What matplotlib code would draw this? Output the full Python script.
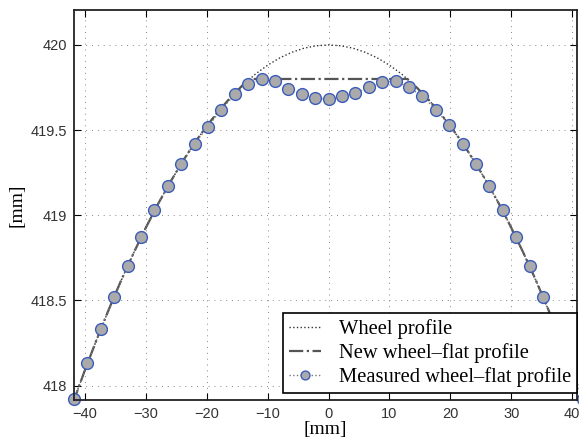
import matplotlib
matplotlib.use('Agg')
from matplotlib import pyplot as plt
from matplotlib.ticker import FuncFormatter

# Wheel profile (round wheel)
wheel_x = [-42, -40, -38, -36, -34, -32, -30, -28, -26, -24, -22, -20, -18, -16,
           -14, -12, -10, -8, -6, -4, -2, 0, 2, 4, 6, 8, 10, 12, 14, 16, 18,
           20, 22, 24, 26, 28, 30, 32, 34, 36, 38, 40, 42]
wheel_y = [417.895, 418.091, 418.277, 418.454, 418.622, 418.779, 418.927,
           419.066, 419.194, 419.314, 419.424, 419.524, 419.614, 419.695,
           419.767, 419.829, 419.881, 419.924, 419.957, 419.981, 419.995, 420.0,
           419.995, 419.981, 419.957, 419.924, 419.881, 419.829, 419.767,
           419.695, 419.614, 419.524, 419.424, 419.314, 419.194, 419.066,
           418.927, 418.779, 418.622, 418.454, 418.277, 418.091, 417.895]

# New wheel-flat profile (flat chord at 419.8)
flat_x = [-42, -40, -38, -36, -34, -32, -30, -28, -26, -24, -22, -20, -18, -16,
          -14, -12.96, 12.96, 14, 16, 18, 20, 22, 24, 26, 28, 30, 32, 34, 36,
          38, 40, 42]
flat_y = [417.895, 418.091, 418.277, 418.454, 418.622, 418.779, 418.927,
          419.066, 419.194, 419.314, 419.424, 419.524, 419.614, 419.695,
          419.767, 419.8, 419.8, 419.767, 419.695, 419.614, 419.524, 419.424,
          419.314, 419.194, 419.066, 418.927, 418.779, 418.622, 418.454,
          418.277, 418.091, 417.895]

# Measured wheel-flat profile
meas_x = [-41.8, -39.6, -37.4, -35.2, -33.0, -30.8, -28.6, -26.4, -24.2, -22.0,
          -19.8, -17.6, -15.4, -13.2, -11.0, -8.8, -6.6, -4.4, -2.2, 0.0,
          2.2, 4.4, 6.6, 8.8, 11.0, 13.2, 15.4, 17.6, 19.8, 22.0, 24.2, 26.4,
          28.6, 30.8, 33.0, 35.2, 37.4, 39.6, 41.8]
meas_y = [417.92, 418.13, 418.33, 418.52, 418.70, 418.87, 419.03, 419.17,
          419.30, 419.42, 419.52, 419.62, 419.71, 419.77, 419.80, 419.79,
          419.74, 419.71, 419.69, 419.68, 419.70, 419.72, 419.75, 419.78,
          419.79, 419.75, 419.70, 419.62, 419.53, 419.42, 419.30, 419.17,
          419.03, 418.87, 418.70, 418.52, 418.33, 418.13, 417.92]

x_ticks = [-40, -30, -20, -10, 0, 10, 20, 30, 40]
y_ticks = [418, 418.5, 419, 419.5, 420]

fig = plt.figure(figsize=(5.79, 4.41), dpi=100)
ax = fig.add_axes([74 / 579, 41 / 441, 503 / 579, 390 / 441])

ax.plot(wheel_x, wheel_y, ':', color='#333333', lw=1.0, label='Wheel profile')
ax.plot(flat_x, flat_y, '-.', color='#555555', lw=1.6,
        label='New wheel\u2013flat profile')
ax.plot(meas_x, meas_y, ':', color='#777777', lw=1.0, marker='o', ms=8.5,
        mfc='#aaaaaa', mec='#3c5cbc', mew=1.0, clip_on=False,
        label='Measured wheel\u2013flat profile')

ax.set_xlim(-41.8, 40.8)
ax.set_ylim(417.915, 420.205)
ax.set_xticks(x_ticks)
ax.set_yticks(y_ticks)
ax.yaxis.set_major_formatter(FuncFormatter(lambda v, p: '%g' % v))
ax.grid(True, linestyle=(0, (1, 5)), color='#888888', lw=0.7)
ax.tick_params(direction='in', top=True, right=True, length=5, width=0.8,
               labelsize=10.5, pad=5, colors='black', labelcolor='#333333')
for lab in ax.get_xticklabels() + ax.get_yticklabels():
    lab.set_family('Liberation Sans')
for sp in ax.spines.values():
    sp.set_linewidth(1.3)
    sp.set_color('#222222')

ax.set_xlabel('[mm]', family='Liberation Serif', fontsize=14, labelpad=0)
ax.set_ylabel('[mm]', family='Liberation Serif', fontsize=14, labelpad=4)

leg = ax.legend(loc='lower right', bbox_to_anchor=(1.0, 7 / 390),
                borderaxespad=0, prop={'family': 'Liberation Serif', 'size': 14.8},
                fancybox=False, framealpha=1, edgecolor='black',
                handlelength=1.55, labelspacing=0.2, borderpad=0.3,
                handletextpad=0.85, markerscale=0.75)
leg.get_frame().set_linewidth(1.2)
leg.set_zorder(5)

fig.savefig('out.png', dpi=100)
